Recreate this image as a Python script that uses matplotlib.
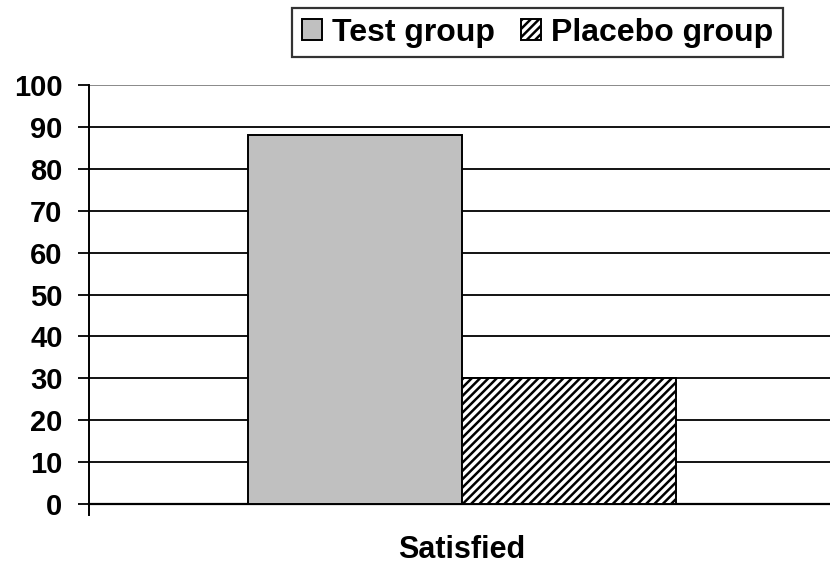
import matplotlib
matplotlib.use("Agg")
import matplotlib.pyplot as plt
import numpy as np

plt.rcParams['font.family'] = ['Liberation Sans', 'DejaVu Sans']
plt.rcParams['font.weight'] = 'bold'
plt.rcParams['hatch.linewidth'] = 1.8

categories = ["Satisfied"]
series_names = ["Test group", "Placebo group"]
test_values = [88]
placebo_values = [30]
y_ticks = [0, 10, 20, 30, 40, 50, 60, 70, 80, 90, 100]

W, H = 830, 563
fig = plt.figure(figsize=(W / 100, H / 100), dpi=100)
ax = fig.add_axes([89 / W, (H - 504) / H, (835 - 89) / W, 419 / H])
ax.set_xlim(-0.5, 0.5)
ax.set_ylim(0, 100)

bw = 214 / 746
x = np.arange(len(categories))
b1 = ax.bar(x - bw / 2, test_values, width=bw, color="#C0C0C0", edgecolor="black",
            linewidth=1.4, label=series_names[0], zorder=3)
b2 = ax.bar(x + bw / 2, placebo_values, width=bw, color="white", edgecolor="black",
            hatch="////", linewidth=1.4, label=series_names[1], zorder=3)
for p in b2:
    if hasattr(p, "set_hatch_linewidth"):
        p.set_hatch_linewidth(1.8)

ax.set_yticks(y_ticks)
ax.set_yticklabels([str(v) for v in y_ticks])
ax.yaxis.grid(True, color="black", linewidth=1.3, zorder=0)
gl = ax.get_ygridlines()
gl[-1].set_color("#808080")
ax.set_axisbelow(True)

ax.set_xticks(x)
ax.set_xticklabels(categories)
ax.tick_params(axis="x", length=0, pad=22, labelsize=22)
ax.tick_params(axis="y", length=8, width=1.3, pad=11, labelsize=21,
               direction="out")

for s in ["top", "right"]:
    ax.spines[s].set_visible(False)
ax.spines["left"].set_linewidth(1.4)
ax.spines["bottom"].set_linewidth(1.6)
ax.spines["left"].set_bounds(-2.6, 100)

leg = ax.legend(loc="upper right", bbox_to_anchor=(783 / W, 1 - 8 / H),
                bbox_transform=fig.transFigure, borderaxespad=0,
                ncol=2, fontsize=23, frameon=True, fancybox=False,
                handlelength=0.62, handleheight=0.62, handletextpad=0.33,
                columnspacing=0.8, borderpad=0.3)
leg.get_frame().set_edgecolor("black")
leg.get_frame().set_linewidth(1.6)
for t in leg.get_texts():
    t.set_fontweight("bold")
for h in leg.legend_handles:
    if hasattr(h, "set_hatch_linewidth"):
        h.set_hatch_linewidth(1.8)

fig.savefig("out.png", dpi=100)
